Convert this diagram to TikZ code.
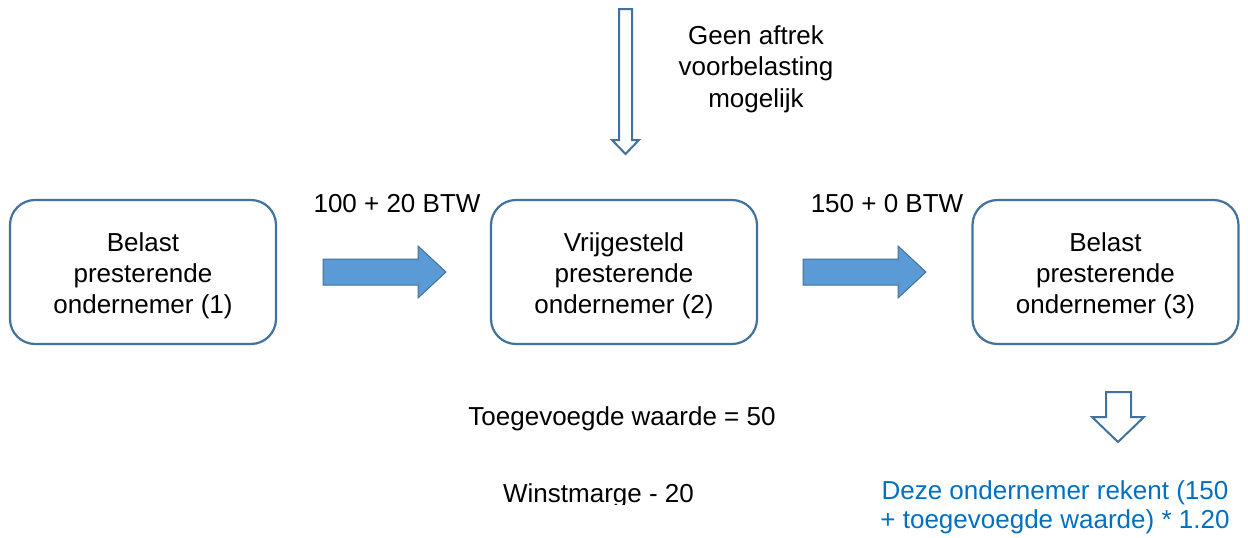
\documentclass[tikz,border=0pt]{standalone}
\usepackage{fontspec}
\setmainfont{Liberation Sans}
\definecolor{edge}{HTML}{41719C}
\definecolor{fillb}{HTML}{5B9BD5}
\definecolor{note}{HTML}{0070C0}
\tikzset{
  party/.style={draw=edge, line width=2.2pt, rounded corners=25pt, fill=white,
    minimum width=266pt, minimum height=144pt, inner sep=0pt},
  partytext/.style={align=center, inner sep=0pt, yshift=-4pt,
    font=\fontsize{26}{31}\selectfont},
  lbl/.style={anchor=base, inner sep=0pt, font=\fontsize{26}{31}\selectfont},
  fatarrow/.style={draw=edge, line width=1pt, fill=fillb, line join=miter},
  hollowarrow/.style={draw=edge, line width=2pt, fill=white, line join=miter},
}
\begin{document}
\begin{tikzpicture}[x=1pt, y=-1pt]
  \useasboundingbox (0,0) rectangle (1248,538);

  % the three entrepreneurs
  \node[party] (p1) at (143,272) {};
  \node[party] (p2) at (624,272) {};
  \node[party] (p3) at (1105.5,272) {};
  \node[partytext] (p1t) at (p1) {Belast\\presterende\\ondernemer (1)};
  \node[partytext] (p2t) at (p2) {Vrijgesteld\\presterende\\ondernemer (2)};
  \node[partytext] (p3t) at (p3) {Belast\\presterende\\ondernemer (3)};

  % supply arrows between the parties
  \draw[fatarrow] (323,259) -- (418,259) -- (418,246) -- (446,272) -- (418,298)
    -- (418,285) -- (323,285) -- cycle;
  \draw[fatarrow] (803,259) -- (898,259) -- (898,246) -- (926,272) -- (898,298)
    -- (898,285) -- (803,285) -- cycle;

  \node[lbl] (t1) at (397,212) {100 + 20 BTW};
  \node[lbl] (t2) at (887,212) {150 + 0 BTW};

  % no input tax deduction for the exempt party
  \draw[hollowarrow] (619,9) -- (632,9) -- (632,140) -- (639,140) -- (625.5,154)
    -- (612,140) -- (619,140) -- cycle;
  \node[align=center, inner sep=0pt, font=\fontsize{26}{31.5}\selectfont, anchor=base]
    (geen) at (756,107) {Geen aftrek\\voorbelasting\\mogelijk};

  \node[lbl] (tw) at (622,425) {Toegevoegde waarde = 50};
  \begin{scope}
    \clip (0,0) rectangle (1248,504);
    \node[lbl] (wm) at (598.5,502) {Winstmarge - 20};
  \end{scope}

  % result for the last party
  \draw[hollowarrow] (1106,392) -- (1131,392) -- (1131,417) -- (1144,417)
    -- (1118,442) -- (1092,417) -- (1106,417) -- cycle;
  \node[align=center, inner sep=0pt, font=\fontsize{26}{29}\selectfont, text=note,
    anchor=base] (res) at (1055,528) {Deze ondernemer rekent (150\\+ toegevoegde waarde) * 1.20};
\end{tikzpicture}
\end{document}
